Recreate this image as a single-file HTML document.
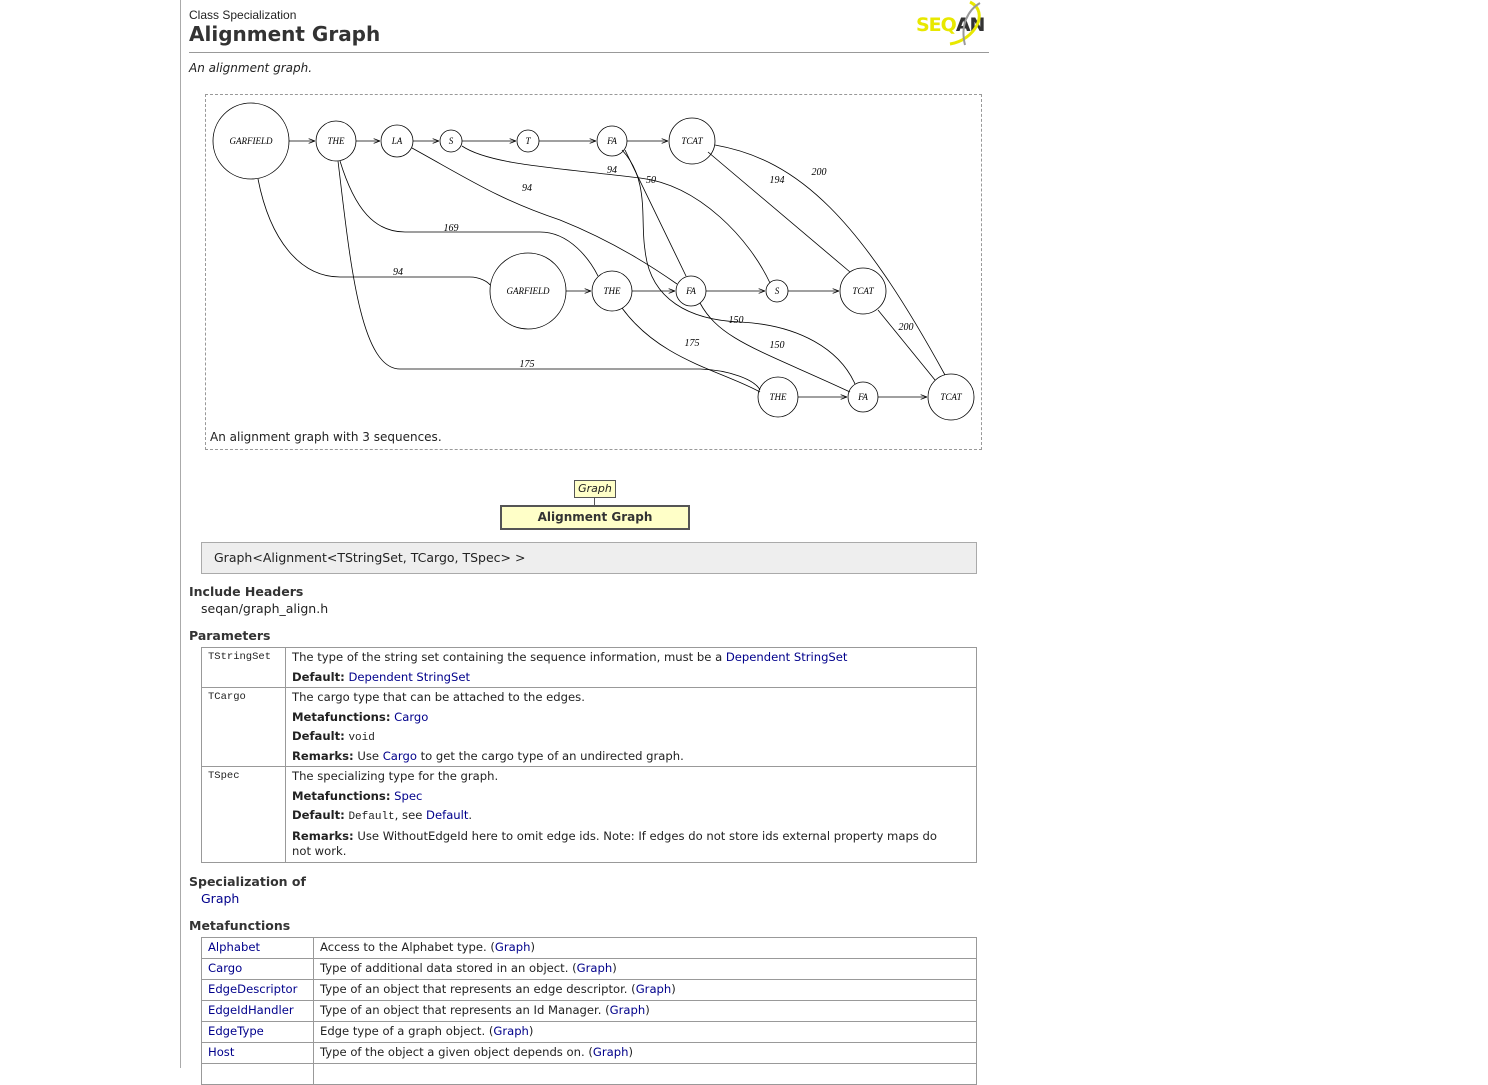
<!DOCTYPE html>
<html><head><meta charset="utf-8"><style>
body{margin:0;background:#fff;width:1488px;height:1068px;overflow:hidden;position:relative;font-family:"DejaVu Sans","Liberation Sans",sans-serif;font-size:11px;color:#222}
.a{position:absolute;white-space:nowrap}
a,.l{color:#00008b;text-decoration:none}
.b{font-weight:bold}
.m{font-family:"Liberation Mono",monospace;font-size:11px}
table{border-collapse:collapse;position:absolute}
td{border:1px solid #999;vertical-align:top;padding:0 6px;font-size:12px}
td div{height:19.5px;line-height:19.5px;overflow:visible;white-space:nowrap}
.p td{font-size:11.6px}
</style></head><body>
<div class="a" style="left:180px;top:0;width:1px;height:1068px;background:#aaa"></div>
<div class="a" style="left:189px;top:8px;font-size:12px;font-family:'Liberation Sans',sans-serif">Class Specialization</div>
<div class="a b" style="left:189px;top:22px;font-size:20px;color:#333">Alignment Graph</div>
<div class="a" style="left:189px;top:52px;width:800px;height:1px;background:#999"></div>
<div class="a" style="left:916px;top:14px;font-weight:bold;font-size:19px;color:#e8e800;letter-spacing:-1px">SEQ<span style="color:#333">AN</span></div>
<svg class="a" style="left:930px;top:0" width="60" height="48"><path d="M40 2 C60 12 45 40 20 44" stroke="#e8e800" stroke-width="3" fill="none"/><path d="M50 3 C38 10 30 25 35 45" stroke="#999" stroke-width="2" fill="none"/></svg>
<div class="a" style="left:189px;top:61px;font-style:italic;font-size:12px">An alignment graph.</div>
<div class="a" style="left:205px;top:94px;width:775px;height:354px;border:1px dashed #999"></div>
<svg class="a" style="left:0;top:0" width="1000" height="460" font-family="Liberation Serif,serif" font-style="italic" font-size="9">
<defs><marker id="ar" markerWidth="8" markerHeight="6" refX="8" refY="3" orient="auto"><path d="M0 0L8 3L0 6" fill="none" stroke="#000"/></marker></defs>
<g fill="none" stroke="#000" stroke-width="0.8">
<circle cx="251" cy="141" r="38"/><circle cx="336" cy="141" r="20"/><circle cx="397" cy="141" r="16"/><circle cx="451" cy="141" r="11"/><circle cx="528" cy="141" r="11"/><circle cx="612" cy="141" r="15"/><circle cx="692" cy="141" r="23"/>
<circle cx="528" cy="291" r="38"/><circle cx="612" cy="291" r="20"/><circle cx="691" cy="291" r="15"/><circle cx="777" cy="291" r="11"/><circle cx="863" cy="291" r="23"/>
<circle cx="778" cy="397" r="20"/><circle cx="863" cy="397" r="15"/><circle cx="951" cy="397" r="23"/>
<g marker-end="url(#ar)">
<path d="M289 141H315"/><path d="M356 141H380"/><path d="M413 141H439"/><path d="M462 141H516"/><path d="M539 141H596"/><path d="M627 141H668"/>
<path d="M566 291H591"/><path d="M632 291H675"/><path d="M706 291H765"/><path d="M788 291H839"/>
<path d="M798 397H847"/><path d="M878 397H927"/>
</g>
<path d="M258 179C270 240 300 277 340 277H470C480 277 488 282 490 285"/>
<path d="M340 161C355 210 375 232 405 232H540C570 232 590 260 598 276"/>
<path d="M338 161C350 260 360 369 400 369H700C730 370 755 380 760 390"/>
<path d="M412 148C470 180 500 200 560 220C610 240 650 265 677 284"/>
<path d="M462 146C490 165 560 168 640 178C700 185 750 240 770 283"/>
<path d="M625 150L686 276"/>
<path d="M622 150C650 180 640 220 645 250C650 300 690 320 740 322C800 325 840 350 855 384"/>
<path d="M708 152L850 272"/>
<path d="M715 145C800 160 860 220 945 375"/>
<path d="M622 308C660 360 720 370 760 392"/>
<path d="M700 303C720 340 760 350 850 392"/>
<path d="M878 310L935 380"/>
</g>
<g fill="#000" text-anchor="middle">
<text x="251" y="144">GARFIELD</text><text x="336" y="144">THE</text><text x="397" y="144">LA</text><text x="451" y="144">S</text><text x="528" y="144">T</text><text x="612" y="144">FA</text><text x="692" y="144">TCAT</text>
<text x="528" y="294">GARFIELD</text><text x="612" y="294">THE</text><text x="691" y="294">FA</text><text x="777" y="294">S</text><text x="863" y="294">TCAT</text>
<text x="778" y="400">THE</text><text x="863" y="400">FA</text><text x="951" y="400">TCAT</text>
<g font-size="10"><text x="398" y="275">94</text><text x="451" y="231">169</text><text x="527" y="367">175</text><text x="527" y="191">94</text><text x="612" y="173">94</text><text x="651" y="183">50</text><text x="777" y="183">194</text><text x="819" y="175">200</text><text x="736" y="323">150</text><text x="692" y="346">175</text><text x="777" y="348">150</text><text x="906" y="330">200</text></g>
</g>
</svg>
<div class="a" style="left:210px;top:430px;font-size:12px">An alignment graph with 3 sequences.</div>
<div class="a" style="left:574px;top:480px;width:40px;height:16px;border:1px solid #555;background:#ffffc8;font-style:italic;text-align:center;line-height:16px">Graph</div>
<div class="a" style="left:594px;top:497px;width:1px;height:9px;background:#555"></div>
<div class="a b" style="left:500px;top:505px;width:186px;height:21px;border:2px solid #555;background:#ffffc8;text-align:center;line-height:21px;font-size:12px;color:#333">Alignment Graph</div>
<div class="a" style="left:201px;top:542px;width:774px;height:30px;border:1px solid #aaa;background:#eee;line-height:30px;font-size:12.5px"><span style="padding-left:12px">Graph&lt;Alignment&lt;TStringSet, TCargo, TSpec&gt; &gt;</span></div>
<div class="a b" style="left:189px;top:584px;font-size:12.5px;color:#333">Include Headers</div>
<div class="a" style="left:201px;top:601px;font-size:12.5px">seqan/graph_align.h</div>
<div class="a b" style="left:189px;top:628px;font-size:12.5px;color:#333">Parameters</div>
<table class="p" style="left:201px;top:647px;width:776px">
<tr><td class="m" style="width:71px;font-size:10.5px"><div>TStringSet</div></td><td><div>The type of the string set containing the sequence information, must be a <a>Dependent StringSet</a></div><div><b>Default:</b> <a>Dependent StringSet</a></div></td></tr>
<tr><td class="m" style="font-size:10.5px"><div>TCargo</div></td><td><div>The cargo type that can be attached to the edges.</div><div><b>Metafunctions:</b> <a>Cargo</a></div><div><b>Default:</b> <span class="m">void</span></div><div><b>Remarks:</b> Use <a>Cargo</a> to get the cargo type of an undirected graph.</div></td></tr>
<tr><td class="m" style="font-size:10.5px"><div>TSpec</div></td><td><div>The specializing type for the graph.</div><div><b>Metafunctions:</b> <a>Spec</a></div><div><b>Default:</b> <span class="m">Default</span>, see <a>Default</a>.</div><div style="height:auto;line-height:15px;padding:3px 0 3px"><b>Remarks:</b> Use WithoutEdgeId here to omit edge ids. Note: If edges do not store ids external property maps do<br>not work.</div></td></tr>
</table>
<div class="a b" style="left:189px;top:874px;font-size:12.5px;color:#333">Specialization of</div>
<div class="a l" style="left:201px;top:891px;font-size:12.5px">Graph</div>
<div class="a b" style="left:189px;top:918px;font-size:12.5px;color:#333">Metafunctions</div>
<table class="p" style="left:201px;top:937px;width:776px">
<tr><td style="width:99px"><div style="height:20px"><a>Alphabet</a></div></td><td><div style="height:20px">Access to the Alphabet type. (<a>Graph</a>)</div></td></tr>
<tr><td><div style="height:20px"><a>Cargo</a></div></td><td><div style="height:20px">Type of additional data stored in an object. (<a>Graph</a>)</div></td></tr>
<tr><td><div style="height:20px"><a>EdgeDescriptor</a></div></td><td><div style="height:20px">Type of an object that represents an edge descriptor. (<a>Graph</a>)</div></td></tr>
<tr><td><div style="height:20px"><a>EdgeIdHandler</a></div></td><td><div style="height:20px">Type of an object that represents an Id Manager. (<a>Graph</a>)</div></td></tr>
<tr><td><div style="height:20px"><a>EdgeType</a></div></td><td><div style="height:20px">Edge type of a graph object. (<a>Graph</a>)</div></td></tr>
<tr><td><div style="height:20px"><a>Host</a></div></td><td><div style="height:20px">Type of the object a given object depends on. (<a>Graph</a>)</div></td></tr>
<tr><td><div style="height:20px">&nbsp;</div></td><td><div style="height:20px">&nbsp;</div></td></tr>
</table>
</body></html>
